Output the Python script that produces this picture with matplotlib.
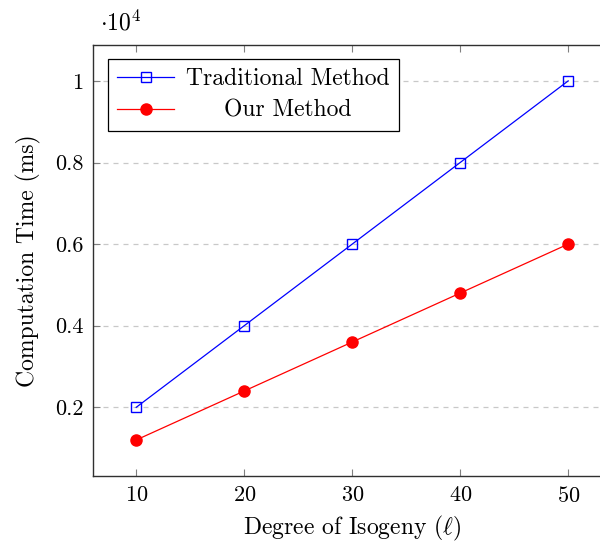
import numpy as np
import matplotlib
matplotlib.use("Agg")
import matplotlib.pyplot as plt
from matplotlib.ticker import FuncFormatter

plt.rcParams['font.family'] = ['cmr10', 'DejaVu Serif']
plt.rcParams['mathtext.fontset'] = 'cm'
plt.rcParams['axes.formatter.use_mathtext'] = True

# data (ms)
degree = [10, 20, 30, 40, 50]
traditional = [2000, 4000, 6000, 8000, 10000]
ours = [1200, 2400, 3600, 4800, 6000]
xticks = [10, 20, 30, 40, 50]
yticks = [2000, 4000, 6000, 8000, 10000]

fig = plt.figure(figsize=(6.0, 5.42), dpi=100)
ax = fig.add_axes([0.155, 0.122, 0.864, 0.795])

ax.plot(degree, traditional, color='blue', lw=0.9, marker='s', ms=7.5,
        mfc='none', mec='blue', mew=1.0, label='Traditional Method')
ax.plot(degree, ours, color='red', lw=0.9, marker='o', ms=8,
        mfc='red', mec='red', label='Our Method')

ax.set_xlim(6, 54)
ax.set_ylim(320, 10880)
ax.set_xticks(xticks)
ax.set_yticks(yticks)
ax.yaxis.set_major_formatter(FuncFormatter(lambda v, p: '{:g}'.format(v / 1e4)))
ax.yaxis.grid(True, color='#c8c8c8', ls=(0, (4, 4)), lw=0.9)
ax.set_axisbelow(True)

ax.tick_params(direction='in', length=5, color='#808080', top=True, right=True,
               labelsize=16, pad=7)
for s in ax.spines.values():
    s.set_color('#303030')
    s.set_linewidth(1.0)

ax.set_xlabel(r'Degree of Isogeny $(\ell)$', fontsize=17, labelpad=6)
ax.set_ylabel('Computation Time (ms)', fontsize=17, labelpad=10)
ax.annotate(r'$\cdot 10^4$', xy=(0.0, 1.0), xycoords='axes fraction',
            xytext=(5, 7), textcoords='offset points', fontsize=17, va='bottom')

leg = ax.legend(loc='upper left', bbox_to_anchor=(0.029, 0.968), borderaxespad=0,
                fontsize=17, fancybox=False, edgecolor='black', framealpha=1,
                handlelength=2.4, borderpad=0.4, labelspacing=0.4, handletextpad=0.5)
leg.get_frame().set_linewidth(0.9)

# centre legend entries like pgfplots
fig.canvas.draw()
r = fig.canvas.get_renderer()
texts = leg.get_texts()
widths = [t.get_window_extent(r).width for t in texts]
mw = max(widths)
for t, w in zip(texts, widths):
    t.set_position(((mw - w) / 2, 0))

fig.savefig('out.png', dpi=100)
